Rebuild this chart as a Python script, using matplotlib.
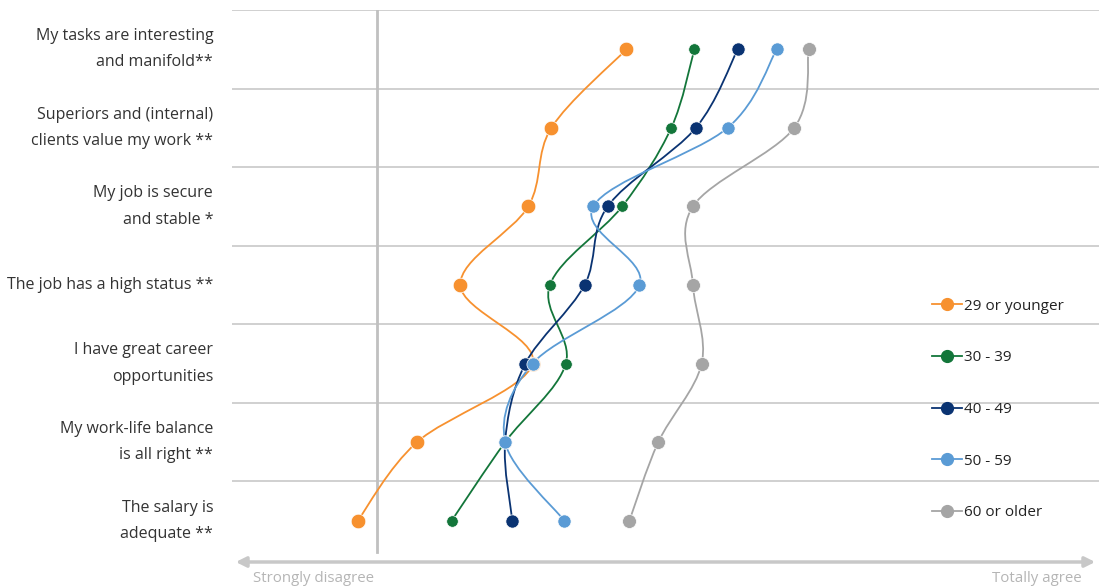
import numpy as np
import matplotlib.pyplot as plt
from matplotlib.path import Path
from matplotlib.patches import PathPatch, FancyArrowPatch
from matplotlib.lines import Line2D

plt.rcParams['font.family'] = ['Open Sans', 'DejaVu Sans']

# survey statements (top to bottom)
categories = [
    'My tasks are interesting\nand manifold**',
    'Superiors and (internal)\nclients value my work **',
    'My job is secure\nand stable *',
    'The job has a high status **',
    'I have great career\nopportunities',
    'My work-life balance\nis all right **',
    'The salary is\nadequate **',
]

# mean agreement per age group, axis runs 0..6 (line at 1)
groups = ['29 or younger', '30 - 39', '40 - 49', '50 - 59', '60 or older']
age_29 = [2.73, 2.21, 2.05, 1.58, 2.08, 1.28, 0.87]
age_30 = [3.20, 3.04, 2.70, 2.20, 2.31, 1.89, 1.52]
age_40 = [3.50, 3.21, 2.60, 2.44, 2.03, 1.89, 1.94]
age_50 = [3.77, 3.43, 2.50, 2.82, 2.08, 1.89, 2.30]
age_60 = [3.99, 3.89, 3.19, 3.19, 3.25, 2.95, 2.75]
series = [age_29, age_30, age_40, age_50, age_60]

colors = ['#F7912F', '#13763A', '#0A3372', '#5A9BD5', '#A5A5A5']
msizes = [10.5, 8.3, 9.5, 9.5, 10.0]


def smooth_path(ax, xs, ys):
    '''
    Catmull-Rom style bezier through the points, built in screen space
    like a spreadsheet "smoothed line"
    '''
    pts = ax.transData.transform(np.column_stack([xs, ys]))
    n = len(pts)
    verts = [pts[0]]
    codes = [Path.MOVETO]
    for i in range(n - 1):
        p0 = pts[max(i - 1, 0)]
        p1 = pts[i]
        p2 = pts[i + 1]
        p3 = pts[min(i + 2, n - 1)]
        c1 = p1 + (p2 - p0) / 6
        c2 = p2 - (p3 - p1) / 6
        verts += [c1, c2, p2]
        codes += [Path.CURVE4] * 3
    verts = ax.transData.inverted().transform(np.array(verts))
    return Path(verts, codes)


fig = plt.figure(figsize=(10.99, 5.88), dpi=100)
ax = fig.add_axes([232 / 1099, 28 / 588, 867 / 1099, 550 / 588])
ax.set_xlim(0, 6)
ax.set_ylim(6.5, -0.5)
for s in ax.spines.values():
    s.set_visible(False)
ax.set_xticks([])
ax.set_yticks([])

# row separators
for yb in np.arange(-0.5, 6.0, 1.0):
    ax.axhline(yb, color='#C8C8C8', lw=1.2, zorder=0)
ax.plot([1, 1], [-0.5, 6.4], color='#C0C0C0', lw=2, zorder=0)

ypos = np.arange(len(categories))
for vals, c in zip(series, colors):
    p = smooth_path(ax, vals, ypos)
    ax.add_patch(PathPatch(p, fill=False, edgecolor=c, lw=1.3, zorder=2))
for vals, c, ms in zip(series, colors, msizes):
    ax.plot(vals, ypos, ls='none', marker='o', ms=ms, color=c,
            mec='white', mew=0.5, zorder=3)

# category labels
for y, lab in zip(ypos, categories):
    ax.text(-0.13, y, lab, ha='right', va='center', fontsize=11.5,
            color='#333333', linespacing=1.85, clip_on=False)

# legend
handles = [Line2D([], [], color=c, lw=1.3, marker='o', ms=8.5) for c in colors]
ax.legend(handles, groups, loc='upper left', bbox_to_anchor=(0.791, 0.50),
          frameon=False, fontsize=11, handlelength=2.0, handletextpad=0.15,
          labelspacing=2.40, labelcolor='#222222')

# bottom agreement arrow
arr = FancyArrowPatch((233 / 1099, 26 / 588), (1098 / 1099, 26 / 588),
                      transform=fig.transFigure, arrowstyle='<|-|>',
                      mutation_scale=15, color='#C8C8C8', lw=2.5)
fig.patches.append(arr)
fig.text(253 / 1099, 9 / 588, 'Strongly disagree', fontsize=10.8,
         color='#B5B5B5', ha='left', va='center')
fig.text(1082 / 1099, 9 / 588, 'Totally agree', fontsize=10.8,
         color='#B5B5B5', ha='right', va='center')

fig.savefig('out.png', dpi=100)
